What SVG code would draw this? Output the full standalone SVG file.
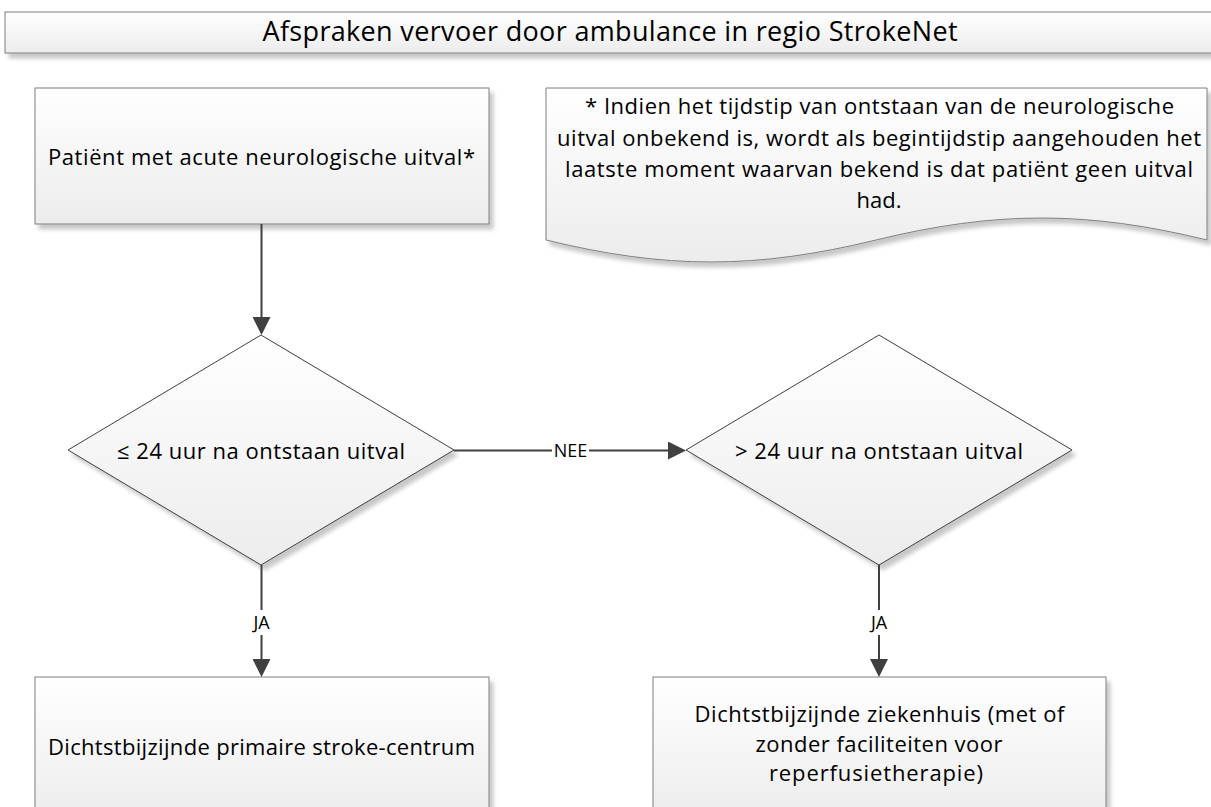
<svg xmlns="http://www.w3.org/2000/svg" width="1211" height="807" viewBox="0 0 1211 807">
<defs>
<linearGradient id="g" x1="0" y1="0" x2="0" y2="1">
<stop offset="0" stop-color="#ffffff"/>
<stop offset="1" stop-color="#ececec"/>
</linearGradient>
<filter id="sh" x="-5%" y="-10%" width="115%" height="130%">
<feGaussianBlur in="SourceAlpha" stdDeviation="2"/>
<feOffset dx="4" dy="5" result="o"/>
<feComponentTransfer><feFuncA type="linear" slope="0.22"/></feComponentTransfer>
<feMerge><feMergeNode/><feMergeNode in="SourceGraphic"/></feMerge>
</filter>
<marker id="ah" markerUnits="userSpaceOnUse" markerWidth="18" markerHeight="18" viewBox="0 0 18 18" refX="14" refY="9" orient="auto">
<path d="M0,0 L18,9 L0,18 Z" fill="#404040"/>
</marker>
<style>
.box{fill:url(#g);stroke:#7f7f7f;stroke-width:1;filter:url(#sh)}
.dia{fill:url(#g);stroke:#404040;stroke-width:1;filter:url(#sh)}
.t{font-family:"Open Sans","Liberation Sans",sans-serif;font-size:22px;fill:#000;text-anchor:middle}
.title{font-family:"Open Sans","Liberation Sans",sans-serif;font-size:27px;fill:#000;text-anchor:middle}
.lbl{font-family:"Open Sans","Liberation Sans",sans-serif;font-size:18px;fill:#000;text-anchor:middle}
.c{stroke:#404040;stroke-width:2;fill:none;marker-end:url(#ah)}
</style>
</defs>

<g id="title">
<rect class="box" x="5" y="12" width="1215" height="41"/>
<text class="title" x="610" y="41" textLength="695" lengthAdjust="spacing">Afspraken vervoer door ambulance in regio StrokeNet</text>
</g>

<g id="start">
<rect class="box" x="35" y="88" width="454" height="136"/>
<text class="t" x="261.5" y="165" textLength="427" lengthAdjust="spacing">Patiënt met acute neurologische uitval*</text>
</g>

<g id="note">
<path class="box" d="M546,88 H1207 V240 C1087,210.7 996,210.7 876,240 C756,269.3 666,269.3 546,240 Z"/>
<text class="t" x="879.5" y="114" textLength="589" lengthAdjust="spacing">* Indien het tijdstip van ontstaan van de neurologische</text>
<text class="t" x="879" y="146" textLength="644" lengthAdjust="spacing">uitval onbekend is, wordt als begintijdstip aangehouden het</text>
<text class="t" x="879" y="177" textLength="628" lengthAdjust="spacing">laatste moment waarvan bekend is dat patiënt geen uitval</text>
<text class="t" x="879" y="208">had.</text>
</g>

<g id="dec1">
<polygon class="dia" points="261,335 454,450 261,565 68,450"/>
<text class="t" x="261" y="459" textLength="288" lengthAdjust="spacing">≤ 24 uur na ontstaan uitval</text>
</g>

<g id="dec2">
<polygon class="dia" points="879,335 1072,450 879,565 686,450"/>
<text class="t" x="879" y="459" textLength="288" lengthAdjust="spacing">&gt; 24 uur na ontstaan uitval</text>
</g>

<g id="primary">
<rect class="box" x="35" y="677" width="454" height="145"/>
<text class="t" x="261.5" y="755" textLength="427" lengthAdjust="spacing">Dichtstbijzijnde primaire stroke-centrum</text>
</g>

<g id="nearest">
<rect class="box" x="653" y="677" width="453" height="145"/>
<text class="t" x="879.5" y="722" textLength="370" lengthAdjust="spacing">Dichtstbijzijnde ziekenhuis (met of</text>
<text class="t" x="879" y="752" textLength="247" lengthAdjust="spacing">zonder faciliteiten voor</text>
<text class="t" x="876" y="781" textLength="214" lengthAdjust="spacing">reperfusietherapie)</text>
</g>

<g id="connectors">
<line class="c" x1="261.5" y1="224" x2="261.5" y2="331"/>
<line class="c" x1="454" y1="450.5" x2="682" y2="450.5"/>
<line class="c" x1="261.5" y1="565" x2="261.5" y2="673"/>
<line class="c" x1="879" y1="565" x2="879" y2="673"/>
<rect x="552" y="441" width="37" height="19" fill="#ffffff"/>
<text class="lbl" x="570.5" y="457">NEE</text>
<rect x="249" y="610" width="25" height="25" fill="#ffffff"/>
<text class="lbl" x="261.5" y="629">JA</text>
<rect x="867" y="610" width="25" height="25" fill="#ffffff"/>
<text class="lbl" x="879" y="629">JA</text>
</g>
</svg>
